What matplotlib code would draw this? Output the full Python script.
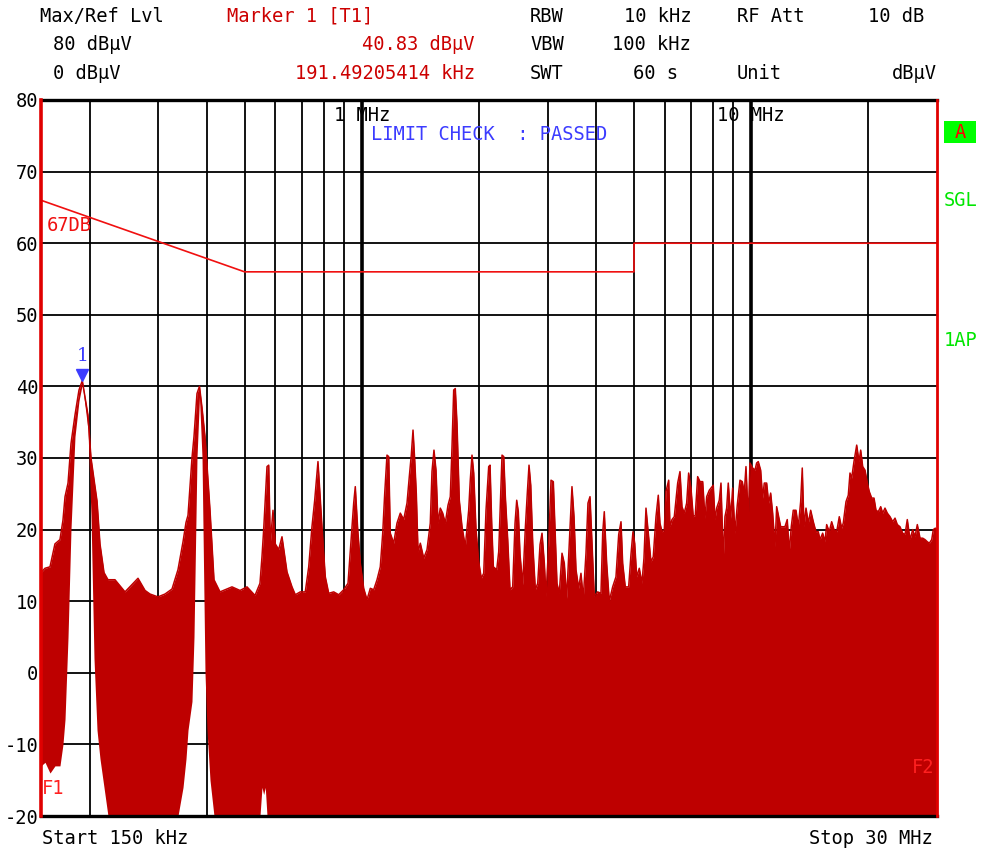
import matplotlib
matplotlib.use("Agg")
import matplotlib.pyplot as plt
from matplotlib.patches import Rectangle
from matplotlib.ticker import NullFormatter
from matplotlib.transforms import offset_copy

# ---------------- data ----------------
freq_mhz = [
    0.1500, 0.1536, 0.1582, 0.1629, 0.1678, 0.1708, 0.1729, 0.1760, 0.1791, 0.1834,
    0.1878, 0.1915, 0.1980, 0.2016, 0.2052, 0.2089, 0.2126, 0.2177, 0.2229, 0.2323,
    0.2465, 0.2662, 0.2775, 0.2858, 0.2996, 0.3123, 0.3255, 0.3372, 0.3474, 0.3536,
    0.3578, 0.3663, 0.3707, 0.3773, 0.3829, 0.3887, 0.3956, 0.4003, 0.4075, 0.4172,
    0.4323, 0.4641, 0.4866, 0.5071, 0.5317, 0.5476,
    0.5541, 0.5597, 0.5650, 0.5708, 0.5766, 0.5821, 0.5914, 0.5995, 0.6116, 0.6237,
    0.6424, 0.6617, 0.6748, 0.6950, 0.7158, 0.7305, 0.7447, 0.7568, 0.7672, 0.7716,
    0.7777, 0.7869, 0.7949, 0.8058, 0.8221, 0.8468, 0.8722, 0.8985, 0.9216, 0.9398,
    0.9531, 0.9621, 0.9760, 0.9910, 1.0111, 1.0311, 1.0515, 1.0728, 1.0941, 1.1154,
    1.1315, 1.1448, 1.1605, 1.1723, 1.1833, 1.2073, 1.2312, 1.2555, 1.2809, 1.3063,
    1.3242, 1.3398, 1.3535, 1.3672, 1.3802, 1.3943, 1.4133, 1.4419, 1.4704, 1.4990,
    1.5142, 1.5321, 1.5506, 1.5689, 1.5903, 1.6132, 1.6383, 1.6646, 1.6874, 1.7046,
    1.7216, 1.7379, 1.7556, 1.7796, 1.8086, 1.8439, 1.8812, 1.8990, 1.9184, 1.9379,
    1.9644, 1.9959, 2.0270, 2.0561, 2.0842, 2.1176,
    2.1343, 2.1555, 2.1765, 2.2205, 2.2467, 2.2681, 2.2912, 2.3145, 2.3365, 2.3695,
    2.4019, 2.4404, 2.4744, 2.4991, 2.5228, 2.5485, 2.5893, 2.6296, 2.6607, 2.6878,
    2.7152, 2.7473, 2.7899, 2.8294, 2.8687, 2.9026, 2.9423, 2.9722, 3.0199, 3.0611,
    3.1030, 3.1339, 3.1710, 3.2143, 3.2666, 3.3112, 3.3581, 3.4103, 3.4650, 3.5067,
    3.5481, 3.6050, 3.6543, 3.7042, 3.7643, 3.8088, 3.8546, 3.9002, 3.9536, 4.0335,
    4.1132, 4.1550, 4.1944, 4.2537, 4.3200, 4.4074, 4.4945, 4.5675, 4.6300, 4.6760,
    4.7487, 4.8447, 4.9110, 4.9701, 5.0207, 5.0800, 5.1589, 5.2415, 5.3034, 5.3673,
    5.4407, 5.5278, 5.6034, 5.6945, 5.7723, 5.8298, 5.9000, 5.9806, 6.0402, 6.1383,
    6.1851, 6.2597, 6.3453, 6.4737, 6.5622, 6.6397, 6.7305, 6.8273, 6.9080, 7.0024,
    7.0982, 7.1837, 7.2853, 7.3866, 7.5050, 7.6076, 7.6851, 7.8046,
    7.9900, 8.0715, 8.1518, 8.2786, 8.3629, 8.4773, 8.5617, 8.6489, 8.7309, 8.8564,
    8.9610, 9.0836, 9.2079, 9.3574, 9.4854, 9.5974, 9.6951, 9.8277, 9.9255, 10.087,
    10.225, 10.326, 10.427, 10.574, 10.699, 10.803, 10.956, 11.088, 11.219, 11.351,
    11.511, 11.624, 11.762, 11.903, 12.044, 12.208, 12.375, 12.524, 12.673, 12.823,
    13.032, 13.210, 13.397, 13.524, 13.662, 13.826, 14.015, 14.214, 14.435, 14.666,
    14.866, 15.017, 15.258, 15.467, 15.624, 15.867, 16.091, 16.316, 16.577, 16.834,
    17.073, 17.235, 17.515, 17.755, 17.935, 18.114, 18.362, 18.660, 18.915, 19.104,
    19.333, 19.599, 19.868, 20.103, 20.391, 20.670, 20.915, 21.201, 21.506, 21.759,
    22.058, 22.361, 22.724, 23.088, 23.405, 23.724, 24.104, 24.491, 24.827, 25.167,
    25.577, 25.988, 26.343, 26.703, 27.137, 27.573, 27.950, 28.332, 28.667, 29.078,
    29.354, 29.700, 30.000,
]

peak_dbuv = [
    14.0, 14.6, 14.8, 18.0, 18.6, 21.3, 24.6, 26.5, 32.0, 36.0,
    39.5, 40.8, 36.0, 30.0, 27.0, 24.0, 18.0, 14.0, 13.0, 13.0,
    11.3, 13.2, 11.5, 11.0, 10.6, 11.0, 11.7, 14.4, 18.3, 21.0,
    22.0, 30.0, 33.0, 39.0, 40.0, 37.0, 33.0, 29.0, 22.7, 13.0,
    11.3, 12.0, 11.5, 12.0, 10.8, 12.5,
    16.2, 20.0, 24.1, 28.8, 29.0, 18.1, 22.7, 18.0, 17.2, 19.0,
    14.1, 12.0, 10.9, 11.3, 11.3, 14.8, 20.4, 24.1, 27.9, 29.5,
    26.5, 21.8, 18.1, 13.4, 11.1, 11.3, 10.9, 11.6, 12.5, 19.0,
    23.7, 26.0, 20.0, 15.3, 11.8, 10.2, 11.8, 11.6, 13.0, 14.8,
    19.5, 25.0, 30.4, 30.2, 19.5, 18.1, 20.9, 22.3, 21.4, 23.7,
    27.4, 30.4, 33.9, 29.7, 25.0, 16.9, 18.1, 16.0, 17.2, 20.9,
    28.1, 31.1, 28.3, 20.9, 23.0, 22.3, 20.9, 23.4, 24.6, 31.6,
    39.5, 39.7, 34.8, 24.1, 20.4, 17.6, 22.7, 26.9, 30.4, 27.9,
    20.0, 15.5, 13.2, 13.9, 22.7, 28.8,
    29.0, 20.9, 14.8, 14.4, 16.9, 23.4, 30.4, 30.2, 24.6, 18.6,
    11.6, 12.0, 20.9, 24.1, 22.5, 16.5, 12.3, 20.2, 25.1, 29.0,
    26.2, 18.1, 11.6, 12.5, 17.9, 19.5, 15.3, 10.7, 18.1, 26.9,
    26.7, 20.2, 12.5, 11.1, 16.7, 15.3, 10.4, 18.1, 26.0, 21.8,
    14.4, 11.8, 13.9, 10.4, 16.7, 23.7, 24.6, 18.1, 10.7, 11.3,
    11.1, 19.5, 22.5, 15.3, 10.0, 12.0, 13.4, 19.3, 21.1, 15.3,
    12.0, 12.0, 16.5, 19.7, 18.1, 13.4, 14.6, 12.5, 16.0, 23.0,
    19.5, 15.5, 16.2, 21.8, 24.8, 20.9, 19.7, 19.9, 25.3, 26.9,
    20.4, 21.4, 21.8, 26.5, 28.1, 23.2, 22.3, 23.7, 27.9, 25.8,
    21.8, 22.0, 27.4, 26.7, 26.7, 21.6, 24.6, 25.5,
    26.2, 21.4, 23.0, 24.1, 26.5, 15.8, 21.8, 23.0, 26.5, 21.6,
    25.8, 19.5, 23.4, 26.9, 26.7, 25.1, 28.8, 21.4, 29.3, 28.6,
    28.3, 29.3, 29.5, 28.3, 24.4, 26.5, 26.5, 23.7, 25.1, 22.3,
    17.6, 23.2, 21.8, 20.4, 20.4, 20.4, 21.4, 16.9, 20.4, 22.7,
    22.7, 20.4, 23.9, 28.6, 20.4, 23.0, 20.9, 22.7, 21.1, 19.7,
    19.7, 18.6, 19.5, 18.3, 20.7, 19.7, 21.1, 20.0, 19.7, 21.8,
    20.2, 20.9, 23.9, 24.8, 27.9, 27.2, 29.5, 31.8, 29.5, 31.1,
    28.8, 28.3, 26.5, 25.3, 24.4, 24.4, 22.7, 22.5, 23.2, 22.3,
    23.0, 22.3, 21.8, 21.1, 21.6, 20.7, 20.4, 19.5, 19.3, 21.4,
    18.6, 20.0, 19.0, 20.7, 18.8, 18.8, 18.6, 18.3, 18.1, 18.6,
    20.0, 20.2, 20.0,
]

floor_dbuv = [
    -13.0, -12.5, -14.0, -13.0, -13.0, -10.0, -6.5, 5.0, 20.0, 33.0,
    38.0, 40.3, 34.0, 22.0, 2.0, -8.0, -12.0, -16.0, -20.0, -20.0,
    -20.0, -20.0, -20.0, -20.0, -20.0, -20.0, -20.0, -20.0, -16.0, -12.0,
    -8.0, -4.0, 5.0, 30.0, 38.5, 30.0, 0.0, -8.0, -15.0, -20.0,
    -20.0, -20.0, -20.0, -20.0, -20.0, -20.0,
    -16.0, -17.0, -16.0, -20.0, -20.0, -20.0, -20.0, -20.0, -20.0, -20.0,
    -20.0, -20.0, -20.0, -20.0, -20.0, -20.0, -20.0, -20.0, -20.0, -20.0,
    -20.0, -20.0, -20.0, -20.0, -20.0, -20.0, -20.0, -20.0, -20.0, -20.0,
    -20.0, -20.0, -20.0, -20.0, -20.0, -20.0, -20.0, -20.0, -20.0, -20.0,
    -20.0, -20.0, -20.0, -20.0, -20.0, -20.0, -20.0, -20.0, -20.0, -20.0,
    -20.0, -20.0, -20.0, -20.0, -20.0, -20.0, -20.0, -20.0, -20.0, -20.0,
    -20.0, -20.0, -20.0, -20.0, -20.0, -20.0, -20.0, -20.0, -20.0, -20.0,
    -20.0, -20.0, -20.0, -20.0, -20.0, -20.0, -20.0, -20.0, -20.0, -20.0,
    -20.0, -20.0, -20.0, -20.0, -20.0, -20.0,
    -20.0, -20.0, -20.0, -20.0, -20.0, -20.0, -20.0, -20.0, -20.0, -20.0,
    -20.0, -20.0, -20.0, -20.0, -20.0, -20.0, -20.0, -20.0, -20.0, -20.0,
    -20.0, -20.0, -20.0, -20.0, -20.0, -20.0, -20.0, -20.0, -20.0, -20.0,
    -20.0, -20.0, -20.0, -20.0, -20.0, -20.0, -20.0, -20.0, -20.0, -20.0,
    -20.0, -20.0, -20.0, -20.0, -20.0, -20.0, -20.0, -20.0, -20.0, -20.0,
    -20.0, -20.0, -20.0, -20.0, -20.0, -20.0, -20.0, -20.0, -20.0, -20.0,
    -20.0, -20.0, -20.0, -20.0, -20.0, -20.0, -20.0, -20.0, -20.0, -20.0,
    -20.0, -20.0, -20.0, -20.0, -20.0, -20.0, -20.0, -20.0, -20.0, -20.0,
    -20.0, -20.0, -20.0, -20.0, -20.0, -20.0, -20.0, -20.0, -20.0, -20.0,
    -20.0, -20.0, -20.0, -20.0, -20.0, -20.0, -20.0, -20.0,
    -20.0, -20.0, -20.0, -20.0, -20.0, -20.0, -20.0, -20.0, -20.0, -20.0,
    -20.0, -20.0, -20.0, -20.0, -20.0, -20.0, -20.0, -20.0, -20.0, -20.0,
    -20.0, -20.0, -20.0, -20.0, -20.0, -20.0, -20.0, -20.0, -20.0, -20.0,
    -20.0, -20.0, -20.0, -20.0, -20.0, -20.0, -20.0, -20.0, -20.0, -20.0,
    -20.0, -20.0, -20.0, -20.0, -20.0, -20.0, -20.0, -20.0, -20.0, -20.0,
    -20.0, -20.0, -20.0, -20.0, -20.0, -20.0, -20.0, -20.0, -20.0, -20.0,
    -20.0, -20.0, -20.0, -20.0, -20.0, -20.0, -20.0, -20.0, -20.0, -20.0,
    -20.0, -20.0, -20.0, -20.0, -20.0, -20.0, -20.0, -20.0, -20.0, -20.0,
    -20.0, -20.0, -20.0, -20.0, -20.0, -20.0, -20.0, -20.0, -20.0, -20.0,
    -20.0, -20.0, -20.0, -20.0, -20.0, -20.0, -20.0, -20.0, -20.0, -20.0,
    -20.0, -20.0, -20.0,
]

# limit line (CISPR class B QP style)
limit_freq_mhz = [0.15, 0.5, 5.0, 5.0, 30.0]
limit_dbuv = [66.0, 56.0, 56.0, 60.0, 60.0]
limit_name = "67DB"

marker_freq_mhz = 0.19149205414
marker_dbuv = 40.83

y_ticks = [80, 70, 60, 50, 40, 30, 20, 10, 0, -10, -20]
x_minor_grid = [0.2, 0.3, 0.4, 0.5, 0.6, 0.7, 0.8, 0.9,
                2, 3, 4, 5, 6, 7, 8, 9, 20]
x_major_grid = [1, 10]
x_major_labels = ["1 MHz", "10 MHz"]

# ---------------- figure ----------------
W, H = 981, 852
fig = plt.figure(figsize=(W / 100, H / 100), dpi=100)
fig.patch.set_facecolor("white")

MONO = "DejaVu Sans Mono"
FS = 13.5
TRACE = "#be0000"
LIMIT = "#f01010"
HDR_RED = "#cc0000"
BLUE = "#3c3cff"
GREEN = "#00e600"

L, R, T, B = 41, 937, 100, 816
ax = fig.add_axes([L / W, 1 - B / H, (R - L) / W, (B - T) / H])
ax.set_xscale("log")
ax.set_xlim(0.15, 30)
ax.set_ylim(-20, 80)
ax.set_facecolor("white")

ax.set_xticks(x_major_grid)
ax.set_xticks(x_minor_grid, minor=True)
ax.xaxis.set_major_formatter(NullFormatter())
ax.xaxis.set_minor_formatter(NullFormatter())
ax.set_yticks(y_ticks)
ax.set_yticklabels([str(v) for v in y_ticks], fontfamily=MONO, fontsize=FS)
ax.tick_params(which="both", length=0)
ax.tick_params(axis="y", pad=2)

ax.grid(axis="x", which="major", color="black", lw=2.6, zorder=0)
ax.grid(axis="x", which="minor", color="black", lw=1.3, zorder=0)
ax.grid(axis="y", which="major", color="black", lw=1.3, zorder=0)
ax.set_axisbelow(True)

for s in ("top", "bottom"):
    ax.spines[s].set_color("black")
    ax.spines[s].set_linewidth(2.4)
for s in ("left", "right"):
    ax.spines[s].set_visible(False)

# trace
ax.fill_between(freq_mhz, floor_dbuv, peak_dbuv, color=TRACE, lw=0, zorder=2)
ax.plot(freq_mhz, peak_dbuv, color=TRACE, lw=1.1, zorder=3)

# limit line
ax.plot(limit_freq_mhz, limit_dbuv, color=LIMIT, lw=1.2, zorder=4)
ax.text(0.155, 62.5, limit_name, color=LIMIT, fontfamily=MONO, fontsize=FS,
        ha="left", va="center", zorder=5)

# frequency lines F1 / F2 at start and stop
ax.axvline(0.15, color="#e00000", lw=2.6, zorder=6, clip_on=False)
ax.axvline(30, color="#e00000", lw=2.0, zorder=6, clip_on=False)
ax.text(0.151, -16.2, "F1", color="#ff2020", fontfamily=MONO, fontsize=FS,
        ha="left", va="center", zorder=7)
ax.text(29.5, -13.2, "F2", color="#ff2020", fontfamily=MONO, fontsize=FS,
        ha="right", va="center", zorder=7)

# frequency labels on top of grid
for f, lab in zip(x_major_grid, x_major_labels):
    ax.text(f, 77.9, lab, color="black", fontfamily=MONO, fontsize=FS,
            ha="center", va="center", zorder=5)

# marker
tri = offset_copy(ax.transData, fig=fig, x=0, y=5, units="dots")
ax.plot([marker_freq_mhz], [marker_dbuv], marker="v", color=BLUE,
        markersize=9, transform=tri, zorder=8, clip_on=False)
ax.annotate("1", (marker_freq_mhz, marker_dbuv), xytext=(0, 15),
            textcoords="offset pixels", color=BLUE, fontsize=FS,
            fontfamily="DejaVu Serif", ha="center", va="bottom", zorder=8)

# ---------------- screen annotations ----------------
def ftext(x, y, s, color="black", ha="left", va="baseline", **kw):
    fig.text(x / W, 1 - y / H, s, color=color, ha=ha, va=va,
             fontfamily=MONO, fontsize=FS, **kw)

ftext(40, 22, "Max/Ref Lvl")
ftext(227, 22, "Marker 1 [T1]", color=HDR_RED)
ftext(530, 22, "RBW")
ftext(691, 22, "10 kHz", ha="right")
ftext(737, 22, "RF Att")
ftext(924, 22, "10 dB", ha="right")

ftext(53, 50, "80 dBµV")
ftext(475, 50, "40.83 dBµV", color=HDR_RED, ha="right")
ftext(530, 50, "VBW")
ftext(691, 50, "100 kHz", ha="right")

ftext(53, 79, "0 dBµV")
ftext(475, 79, "191.49205414 kHz", color=HDR_RED, ha="right")
ftext(530, 79, "SWT")
ftext(678, 79, "60 s", ha="right")
ftext(737, 79, "Unit")
ftext(937, 79, "dBµV", ha="right")

ftext(371, 134, "LIMIT CHECK  : PASSED", color=BLUE, va="center")

# right-hand status fields
fig.patches.append(Rectangle((944 / W, 1 - 143 / H), 32 / W, 22 / H,
                             transform=fig.transFigure, facecolor="#00ff00",
                             edgecolor="none"))
ftext(960, 132, "A", color="#ff0000", ha="center", va="center")
ftext(944, 201, "SGL", color=GREEN, va="center")
ftext(944, 341, "1AP", color=GREEN, va="center")

# bottom
ftext(42, 838, "Start 150 kHz", va="center")
ftext(933, 838, "Stop 30 MHz", ha="right", va="center")

fig.savefig("out.png", dpi=100, facecolor="white")
